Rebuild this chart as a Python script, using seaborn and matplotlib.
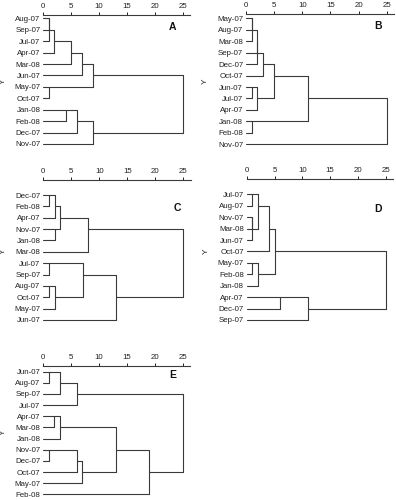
import numpy as np
import pandas as pd
import matplotlib.pyplot as plt
import seaborn as sns

# Panel A
labels_a = ['Aug-07', 'Sep-07', 'Jul-07', 'Apr-07', 'Mar-08', 'Jun-07',
            'May-07', 'Oct-07', 'Jan-08', 'Feb-08', 'Dec-07', 'Nov-07']
left_a = [0, 12, 13, 14, 15, 6, 16, 8, 19, 20, 18]
right_a = [1, 2, 3, 4, 5, 7, 17, 9, 10, 11, 21]
height_a = [1, 1, 2, 5, 7, 1, 9, 4, 6, 9, 25]

# Panel B
labels_b = ['May-07', 'Aug-07', 'Mar-08', 'Sep-07', 'Dec-07', 'Oct-07',
            'Jun-07', 'Jul-07', 'Apr-07', 'Jan-08', 'Feb-08', 'Nov-07']
left_b = [0, 12, 13, 14, 15, 6, 17, 16, 9, 19, 21]
right_b = [1, 2, 3, 4, 5, 7, 8, 18, 10, 20, 11]
height_b = [1, 1, 2, 2, 3, 1, 2, 5, 1, 11, 25]

# Panel C
labels_c = ['Dec-07', 'Feb-08', 'Apr-07', 'Nov-07', 'Jan-08', 'Mar-08',
            'Jul-07', 'Sep-07', 'Aug-07', 'Oct-07', 'May-07', 'Jun-07']
left_c = [0, 12, 3, 13, 15, 6, 8, 18, 17, 20, 16]
right_c = [1, 2, 4, 14, 5, 7, 9, 10, 19, 11, 21]
height_c = [1, 2, 2, 3, 8, 1, 1, 2, 7, 13, 25]

# Panel D
labels_d = ['Jul-07', 'Aug-07', 'Nov-07', 'Mar-08', 'Jun-07', 'Oct-07',
            'May-07', 'Feb-08', 'Jan-08', 'Apr-07', 'Dec-07', 'Sep-07']
left_d = [0, 2, 13, 12, 15, 6, 17, 16, 9, 20, 19]
right_d = [1, 3, 4, 14, 5, 7, 8, 18, 10, 11, 21]
height_d = [1, 1, 1, 2, 4, 1, 2, 5, 6, 11, 25]

# Panel E
labels_e = ['Jun-07', 'Aug-07', 'Sep-07', 'Jul-07', 'Apr-07', 'Mar-08',
            'Jan-08', 'Nov-07', 'Dec-07', 'Oct-07', 'May-07', 'Feb-08']
left_e = [0, 12, 13, 4, 15, 7, 17, 18, 16, 20, 14]
right_e = [1, 2, 3, 5, 6, 8, 9, 10, 19, 11, 21]
height_e = [1, 3, 6, 2, 3, 1, 6, 7, 13, 19, 25]

panel_names = ['A', 'B', 'C', 'D', 'E']
x_ticks = [0, 5, 10, 15, 20, 25]


def dendro_segments(n, left, right, height):
    # SPSS style: merged cluster continues from the (floored) middle row
    rows = list(range(n))
    hts = [0] * n
    segs = []
    for a, b, h in zip(left, right, height):
        ra, rb = rows[a], rows[b]
        segs.append((hts[a], ra, h, ra))
        segs.append((hts[b], rb, h, rb))
        segs.append((h, ra, h, rb))
        rows.append((ra + rb) // 2)
        hts.append(h)
    recs = []
    for i, (x1, y1, x2, y2) in enumerate(segs):
        recs.append({'seg': i, 'x': x1, 'y': y1})
        recs.append({'seg': i, 'x': x2, 'y': y2})
    return pd.DataFrame(recs)


sns.set_theme(style='white')
plt.rcParams['font.family'] = ['Liberation Sans', 'DejaVu Sans']

W, H = 396, 500
fig = plt.figure(figsize=(W / 100, H / 100), dpi=100)

panels = [
    (labels_a, left_a, right_a, height_a),
    (labels_b, left_b, right_b, height_b),
    (labels_c, left_c, right_c, height_c),
    (labels_d, left_d, right_d, height_d),
    (labels_e, left_e, right_e, height_e),
]
# pixel geometry: x of 0, x of 25, axis line y, first row y, last row y
geom = [
    (43.3, 182.7, 15, 18.3, 144),
    (246, 386.7, 14, 18.3, 144.3),
    (43.3, 183.3, 180, 195, 320),
    (246.7, 385.7, 179, 194.3, 320),
    (43.3, 182.7, 366, 371.7, 494.3),
]
letter_pos = [(23.2, 0.75), (23.4, 0.65), (24.0, 1.15), (23.6, 1.3), (23.2, 0.3)]

xmax = 26.3
line_col = '#3a3a3a'
for (labels, left, right, height), (x0, x25, ay, r0, r1), name, lp in zip(
        panels, geom, panel_names, letter_pos):
    n = len(labels)
    step = (r1 - r0) / (n - 1)
    top = (ay - r0) / step
    bot = n - 1 + 0.3
    px_unit = (x25 - x0) / 25
    width_px = px_unit * xmax
    bot_px = r0 + bot * step
    ax = fig.add_axes([x0 / W, 1 - bot_px / H, width_px / W, (bot_px - ay) / H])

    df = dendro_segments(n, left, right, height)
    sns.lineplot(data=df, x='x', y='y', units='seg', estimator=None, sort=False,
                 color=line_col, lw=0.8, ax=ax, legend=False)

    ax.set_xlim(0, xmax)
    ax.set_ylim(bot, top)
    ax.set_xticks(x_ticks)
    ax.xaxis.tick_top()
    ax.tick_params(axis='x', which='major', direction='out', length=2.5, width=0.7,
                   pad=1, labelsize=5.7, colors='#222222', top=True, bottom=False)
    ax.set_yticks(range(n))
    ax.set_yticklabels(labels)
    ax.tick_params(axis='y', length=0, pad=2, labelsize=5.7, colors='#222222')
    for s in ['left', 'right', 'bottom']:
        ax.spines[s].set_visible(False)
    ax.spines['top'].set_color(line_col)
    ax.spines['top'].set_linewidth(0.8)
    ax.set_xlabel('')
    ax.set_ylabel('Y', fontsize=6, color='#222222')
    ax.yaxis.set_label_coords(-0.25, 0.5)
    ax.text(lp[0], lp[1], name, fontsize=7.5, fontweight='bold',
            ha='center', va='center', color='#111111')
    ax.patch.set_alpha(0)

fig.savefig('out.png', dpi=100)
